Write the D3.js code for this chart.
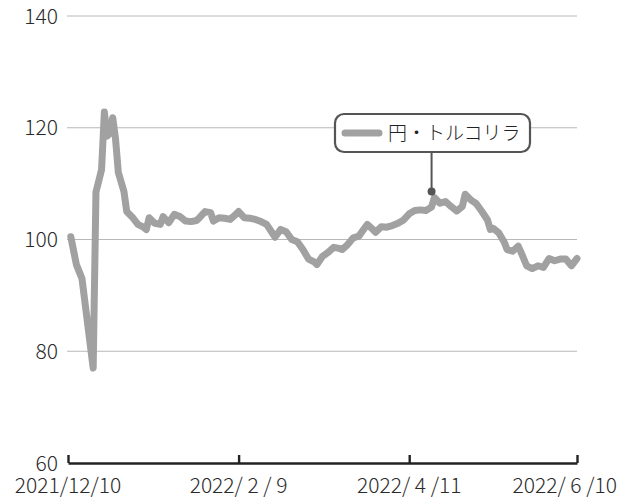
<!DOCTYPE html>
<html>
<head>
<meta charset="utf-8">
<script src="https://cdn.jsdelivr.net/npm/d3@7"></script>
<style>
  html, body { margin: 0; padding: 0; background: #fff; }
  svg { display: block; font-family: "Noto Sans CJK JP", "Noto Sans", sans-serif; font-weight: 300; }
  text { white-space: pre; }
</style>
</head>
<body>
<svg id="chart" width="619" height="497"></svg>
<script>
// ---- data ----
const dates = [
  "2021-12-11","2021-12-13","2021-12-15","2021-12-17","2021-12-19","2021-12-20","2021-12-21","2021-12-22",
  "2021-12-23","2021-12-24","2021-12-25","2021-12-26","2021-12-27","2021-12-28","2021-12-30","2021-12-31",
  "2022-01-02","2022-01-04","2022-01-06","2022-01-07","2022-01-08","2022-01-10","2022-01-12","2022-01-13",
  "2022-01-15","2022-01-17","2022-01-19","2022-01-21","2022-01-23","2022-01-25","2022-01-26","2022-01-28",
  "2022-01-30","2022-01-31","2022-02-02","2022-02-04","2022-02-06","2022-02-08","2022-02-09","2022-02-11",
  "2022-02-13","2022-02-15","2022-02-17","2022-02-19","2022-02-21","2022-02-22","2022-02-24","2022-02-26",
  "2022-02-28","2022-03-02","2022-03-04","2022-03-06","2022-03-08","2022-03-09","2022-03-11","2022-03-13",
  "2022-03-15","2022-03-17","2022-03-18","2022-03-20","2022-03-22","2022-03-24","2022-03-26","2022-03-27",
  "2022-03-29","2022-03-30","2022-04-01","2022-04-03","2022-04-05","2022-04-07","2022-04-09","2022-04-11",
  "2022-04-13","2022-04-15","2022-04-17","2022-04-19","2022-04-20","2022-04-22","2022-04-24","2022-04-26",
  "2022-04-28","2022-04-30","2022-05-01","2022-05-03","2022-05-05","2022-05-07","2022-05-09","2022-05-10",
  "2022-05-11","2022-05-13","2022-05-15","2022-05-16","2022-05-18","2022-05-20","2022-05-21","2022-05-23",
  "2022-05-25","2022-05-27","2022-05-29","2022-05-31","2022-06-02","2022-06-04","2022-06-06","2022-06-08",
  "2022-06-10"
];
const values = [
  100.5, 95.5, 93.0, 85.0, 77.0, 108.5, 110.5, 112.5,
  122.8, 118.5, 119.0, 121.8, 118.0, 112.0, 108.6, 105.0,
  104.0, 102.7, 102.2, 101.8, 103.9, 102.9, 102.7, 104.1,
  103.0, 104.5, 104.1, 103.3, 103.2, 103.4, 103.9, 105.0,
  104.8, 103.3, 103.9, 103.8, 103.6, 104.5, 105.0, 103.9,
  103.8, 103.6, 103.2, 102.7, 101.2, 100.4, 101.8, 101.4,
  100.0, 99.6, 98.2, 96.5, 96.0, 95.5, 97.0, 97.7,
  98.6, 98.4, 98.2, 99.1, 100.3, 100.6, 102.0, 102.7,
  101.8, 101.3, 102.3, 102.2, 102.5, 102.9, 103.5, 104.6,
  105.2, 105.3, 105.2, 105.8, 107.5, 106.5, 106.8, 105.9,
  105.1, 105.9, 108.1, 107.1, 106.4, 105.0, 103.5, 101.8,
  102.0, 101.2, 99.5, 98.2, 97.9, 98.8, 97.7, 95.3,
  94.8, 95.3, 95.0, 96.6, 96.2, 96.5, 96.5, 95.3,
  96.6
];
const seriesName = "円・トルコリラ";
const yTicks = [60, 80, 100, 120, 140];
const xTickDates = ["2021-12-10", "2022-02-09", "2022-04-11", "2022-06-10"];
const xTickLabels = ["2021/12/10", "2022/ 2 / 9", "2022/ 4 /11", "2022/ 6 /10"];
const annotationDate = "2022-04-19";
const annotationValue = 108.6;

// ---- chart ----
const W = 619;
const parse = d3.timeParse("%Y-%m-%d");
const data = dates.map((d, i) => ({ date: parse(d), value: values[i] }));
const svg = d3.select("#chart");

const x = d3.scaleTime()
  .domain([parse("2021-12-10"), parse("2022-06-10")])
  .range([68, 577]);
const y = d3.scaleLinear().domain([60, 140]).range([463, 16]);

// gridlines
svg.append("g").selectAll("line")
  .data(yTicks.filter(t => t > 60))
  .join("line")
  .attr("x1", 67).attr("x2", 577)
  .attr("y1", d => y(d)).attr("y2", d => y(d))
  .attr("stroke", "#b8b8b8").attr("stroke-width", 1);

// y labels
svg.append("g").selectAll("text")
  .data(yTicks)
  .join("text")
  .attr("x", 58).attr("y", d => y(d))
  .attr("dy", "0.36em")
  .attr("text-anchor", "end")
  .attr("font-size", 21)
  .attr("fill", "#2a2a2a")
  .text(d => d);

// x axis
const xAxis = d3.axisTop(x)
  .tickValues(xTickDates.map(parse))
  .tickSize(8)
  .tickSizeOuter(0)
  .tickFormat("");
const gx = svg.append("g").attr("transform", "translate(0,463)").call(xAxis);
gx.select(".domain").attr("stroke", "#222").attr("stroke-width", 2.4);
gx.selectAll(".tick line").attr("stroke", "#222").attr("stroke-width", 2.4);

const xl = svg.append("g").selectAll("text")
  .data(xTickDates)
  .join("text")
  .attr("x", d => x(parse(d)))
  .attr("y", 485)
  .attr("dy", "0.36em")
  .attr("text-anchor", "middle")
  .attr("font-size", 21)
  .attr("fill", "#2a2a2a")
  .text((d, i) => xTickLabels[i]);
// keep labels inside the canvas
xl.each(function () {
  const b = this.getBBox();
  const cx = +this.getAttribute("x");
  if (b.x < 0) this.setAttribute("x", cx - b.x);
  if (b.x + b.width > W - 2) this.setAttribute("x", cx - (b.x + b.width - (W - 2)));
});

// line
const line = d3.line().x(d => x(d.date)).y(d => y(d.value));
svg.append("path")
  .datum(data)
  .attr("d", line)
  .attr("fill", "none")
  .attr("stroke", "#a0a1a0")
  .attr("stroke-width", 7)
  .attr("stroke-linejoin", "round")
  .attr("stroke-linecap", "round");

// annotation / legend
const ax = x(parse(annotationDate));
const ay = y(annotationValue);
const boxX = 335, boxY = 114, boxW = 195, boxH = 38;
svg.append("line")
  .attr("x1", ax).attr("x2", ax)
  .attr("y1", boxY + boxH).attr("y2", ay)
  .attr("stroke", "#555").attr("stroke-width", 2);
svg.append("circle")
  .attr("cx", ax).attr("cy", ay).attr("r", 4)
  .attr("fill", "#555");
svg.append("rect")
  .attr("x", boxX).attr("y", boxY)
  .attr("width", boxW).attr("height", boxH)
  .attr("rx", 9).attr("ry", 9)
  .attr("fill", "#fff")
  .attr("stroke", "#555").attr("stroke-width", 2.2);
svg.append("line")
  .attr("x1", boxX + 10).attr("x2", boxX + 44)
  .attr("y1", boxY + boxH / 2).attr("y2", boxY + boxH / 2)
  .attr("stroke", "#a0a1a0").attr("stroke-width", 7)
  .attr("stroke-linecap", "round");
svg.append("text")
  .attr("x", boxX + 53).attr("y", boxY + boxH / 2)
  .attr("dy", "0.36em")
  .attr("font-size", 19)
  .attr("fill", "#222")
  .text(seriesName);
</script>
</body>
</html>
